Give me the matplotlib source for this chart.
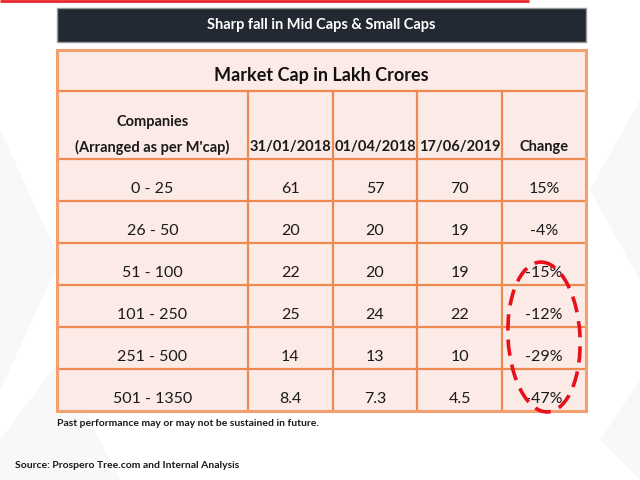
import matplotlib
matplotlib.use("Agg")
import matplotlib.pyplot as plt
from matplotlib.patches import Rectangle, Ellipse, Polygon

plt.rcParams['font.family'] = ['Lato', 'DejaVu Sans']

# ---- data ----
banner = "Sharp fall in Mid Caps & Small Caps"
table_title = "Market Cap in Lakh Crores"
col_headers = ["Companies\n(Arranged as per M'cap)", "31/01/2018", "01/04/2018", "17/06/2019", "Change"]
categories = ["0 - 25", "26 - 50", "51 - 100", "101 - 250", "251 - 500", "501 - 1350"]
cap_2018_01 = ["61", "20", "22", "25", "14", "8.4"]
cap_2018_04 = ["57", "20", "20", "24", "13", "7.3"]
cap_2019_06 = ["70", "19", "19", "22", "10", "4.5"]
change = ["15%", "-4%", "-15%", "-12%", "-29%", "-47%"]
note = "Past performance may or may not be sustained in future."
source = "Source: Prospero Tree.com and Internal Analysis"

# ---- layout ----
fig = plt.figure(figsize=(6.4, 4.8), dpi=100)
ax = fig.add_axes([0, 0, 1, 1])
ax.set_xlim(0, 640)
ax.set_ylim(480, 0)
ax.axis('off')

# faint watermark shapes
for pts in [[(0, 130), (60, 260), (0, 390)], [(0, 440), (60, 360), (120, 480), (0, 480)],
            [(640, 100), (590, 190), (640, 280)], [(640, 380), (600, 440), (640, 480)]]:
    ax.add_patch(Polygon(pts, closed=True, facecolor='#f8f8f8', edgecolor='none', zorder=0))

# top red line
ax.plot([0, 529], [0.8, 0.8], color='#e8262a', lw=2.0, solid_capstyle='butt', zorder=1)

# banner
ax.add_patch(Rectangle((57, 8), 529, 34, facecolor='#232933', edgecolor='#9a9a9a', lw=1.0, zorder=2))
ax.text(321.5, 25, banner, color='white', fontsize=10.5, fontweight='bold', ha='center', va='center', zorder=3)

# table geometry
col_edges = [57, 248, 333, 417, 502, 586]
title_top, title_bot = 50, 91
header_bot = 159
row_h = 42
n_rows = len(categories)
table_bot = header_bot + n_rows * row_h

ax.add_patch(Rectangle((col_edges[0], title_top), col_edges[-1] - col_edges[0], table_bot - title_top,
                       facecolor='#fbeae5', edgecolor='none', zorder=1))
line_c = '#ed8a52'
lw_in = 1.6
for y in [title_bot, header_bot] + [header_bot + i * row_h for i in range(1, n_rows)]:
    ax.plot([col_edges[0], col_edges[-1]], [y, y], color=line_c, lw=lw_in, zorder=2)
for x in col_edges[1:-1]:
    ax.plot([x, x], [title_bot, table_bot], color=line_c, lw=lw_in, zorder=2)
ax.add_patch(Rectangle((col_edges[0], title_top), col_edges[-1] - col_edges[0], table_bot - title_top,
                       facecolor='none', edgecolor='#f2a070', lw=2.2, zorder=2))

ax.text((col_edges[0] + col_edges[-1]) / 2, 76, table_title, fontsize=13, fontweight='bold',
        ha='center', va='center', color='#111111', zorder=3)

centers = [(col_edges[i] + col_edges[i + 1]) / 2 for i in range(5)]
txt_c = '#1a1a1a'
hdr_fs = 10.5
ax.text(centers[0], 122, "Companies", fontsize=hdr_fs, fontweight='bold', ha='center', va='center', color=txt_c, zorder=3)
ax.text(centers[0], 147, "(Arranged as per M'cap)", fontsize=hdr_fs, fontweight='bold', ha='center', va='center', color=txt_c, zorder=3)
for j in range(1, 5):
    ax.text(centers[j], 147, col_headers[j], fontsize=hdr_fs, fontweight='bold', ha='center', va='center', color=txt_c, zorder=3)

columns = [categories, cap_2018_01, cap_2018_04, cap_2019_06, change]
for i in range(n_rows):
    y = header_bot + (i + 1) * row_h - 12
    for j, col in enumerate(columns):
        ax.text(centers[j], y, col[i], fontsize=11.5, ha='center', va='center', color=txt_c, zorder=3)

# red dashed ellipse around mid/small cap changes
ax.add_patch(Ellipse((544, 337), 72, 150, angle=-3, facecolor='none', edgecolor='#e8101a', lw=2.6,
                     linestyle=(0, (4.5, 2.5)), zorder=4))

ax.text(57, 423, note, fontsize=7.5, fontweight='bold', ha='left', va='center', color=txt_c, zorder=3)
ax.text(15, 466, source, fontsize=7.5, fontweight='bold', ha='left', va='center', color=txt_c, zorder=3)

fig.savefig("out.png", dpi=100)
